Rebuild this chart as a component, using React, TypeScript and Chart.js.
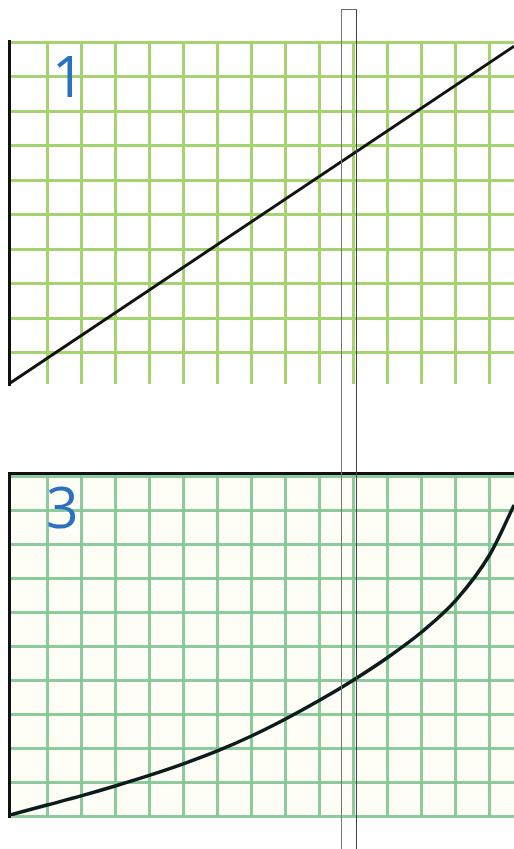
import React, { useEffect, useRef } from "react";
import { Chart, registerables } from "chart.js";

Chart.register(...registerables);

// One unit per grid square on both panels.
const gridCols = [0, 1, 2, 3, 4, 5, 6, 7, 8, 9, 10, 11, 12, 13];
const gridRowsTop = [1, 2, 3, 4, 5, 6, 7, 8, 9, 10];
const gridRowsBottom = [0, 1, 2, 3, 4, 5, 6, 7, 8, 9, 10];

// Panel 1: straight line
const line1X = [-1.15, 13.71];
const line1Y = [0.09, 9.88];

// Panel 3: curve rising faster toward the right
const curve3X = [-1.15, 0, 1, 2, 3, 4, 5, 6, 7, 8, 9, 10, 11, 12, 13, 13.71];
const curve3Y = [0.02, 0.33, 0.6, 0.89, 1.2, 1.54, 1.92, 2.36, 2.86, 3.41, 4.01, 4.67, 5.42, 6.35, 7.7, 9.15];

type PanelCfg = {
  xs: number[];
  ys: number[];
  rows: number[];
  xMin: number;
  xMax: number;
  yMin: number;
  yMax: number;
  gridColor: string;
  bg: string;
  lineColor: string;
  lineWidth: number;
  topBorder: boolean;
  smooth: boolean;
};

const panelBg = {
  id: "panelBg",
  beforeDraw(chart: any, _args: any, opts: any) {
    const { ctx, chartArea } = chart;
    if (!chartArea) return;
    ctx.save();
    ctx.fillStyle = opts.color || "#fff";
    ctx.fillRect(chartArea.left, chartArea.top, chartArea.right - chartArea.left, chartArea.bottom - chartArea.top);
    ctx.restore();
  },
};

function Panel({ cfg, style }: { cfg: PanelCfg; style: React.CSSProperties }) {
  const ref = useRef<HTMLCanvasElement | null>(null);
  useEffect(() => {
    if (!ref.current) return;
    const chart = new Chart(ref.current, {
      type: "line",
      data: {
        datasets: [
          {
            data: cfg.xs.map((x, i) => ({ x, y: cfg.ys[i] })),
            borderColor: cfg.lineColor,
            borderWidth: cfg.lineWidth,
            pointRadius: 0,
            fill: false,
            cubicInterpolationMode: cfg.smooth ? "monotone" : "default",
            tension: 0,
          },
        ],
      },
      options: {
        animation: false,
        responsive: false,
        events: [],
        layout: { padding: { left: 3, top: 3, right: 0, bottom: 3 } },
        plugins: {
          legend: { display: false },
          tooltip: { enabled: false },
          panelBg: { color: cfg.bg },
        } as any,
        scales: {
          x: {
            type: "linear",
            position: cfg.topBorder ? "top" : "bottom",
            min: cfg.xMin,
            max: cfg.xMax,
            afterBuildTicks: (s: any) => {
              s.ticks = gridCols.map((v) => ({ value: v }));
            },
            ticks: { display: false },
            grid: { color: cfg.gridColor, lineWidth: 3, drawTicks: false },
            border: { display: cfg.topBorder, color: "#111", width: 3 },
          },
          y: {
            type: "linear",
            min: cfg.yMin,
            max: cfg.yMax,
            afterBuildTicks: (s: any) => {
              s.ticks = cfg.rows.map((v) => ({ value: v }));
            },
            ticks: { display: false },
            grid: { color: cfg.gridColor, lineWidth: 3, drawTicks: false },
            border: { display: true, color: "#111", width: 3 },
          },
        },
      },
      plugins: [panelBg],
    });
    return () => chart.destroy();
  }, []);
  return <canvas ref={ref} width={508} height={349} style={{ position: "absolute", ...style }} />;
}

const top: PanelCfg = {
  xs: line1X,
  ys: line1Y,
  rows: gridRowsTop,
  xMin: -1.147,
  xMax: 13.706,
  yMin: 0.087,
  yMax: 10.03,
  gridColor: "rgb(164, 211, 112)",
  bg: "#ffffff",
  lineColor: "#111111",
  lineWidth: 3,
  topBorder: false,
  smooth: false,
};

const bottom: PanelCfg = {
  xs: curve3X,
  ys: curve3Y,
  rows: gridRowsBottom,
  xMin: -1.147,
  xMax: 13.706,
  yMin: 0,
  yMax: 10.09,
  gridColor: "rgba(128, 198, 146, 0.9)",
  bg: "#fefdf6",
  lineColor: "#0c1c1c",
  lineWidth: 3.5,
  topBorder: true,
  smooth: true,
};

const numStyle: React.CSSProperties = {
  position: "absolute",
  fontFamily: "'Open Sans', sans-serif",
  fontSize: 57,
  lineHeight: 1,
  color: "#2c70c2",
};

export default function App() {
  return (
    <div style={{ position: "absolute", left: 0, top: 0, width: 514, height: 849, overflow: "hidden", background: "#fff" }}>
      <Panel cfg={top} style={{ left: 6, top: 38 }} />
      <Panel cfg={bottom} style={{ left: 6, top: 470 }} />
      <div style={{ ...numStyle, left: 52, top: 47 }}>1</div>
      <div style={{ ...numStyle, left: 46, top: 478 }}>3</div>
      <div
        style={{
          position: "absolute",
          left: 341,
          top: 9,
          width: 14,
          height: 860,
          borderLeft: "1.5px solid #777",
          borderRight: "1px solid #444",
          borderTop: "1px solid #666",
        }}
      />
    </div>
  );
}
